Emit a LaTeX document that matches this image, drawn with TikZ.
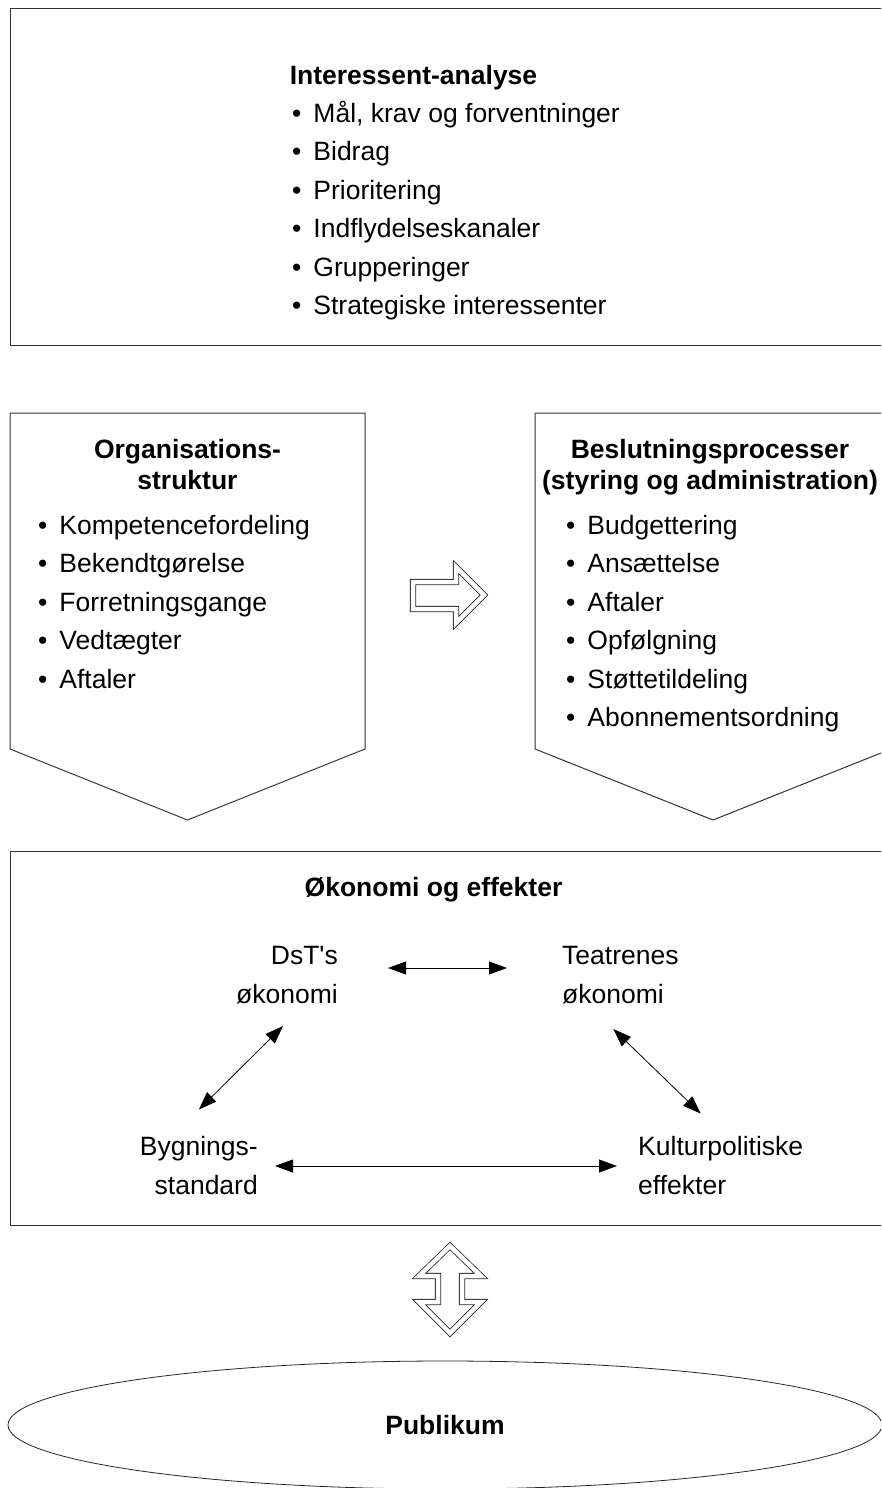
\documentclass[tikz,border=0pt]{standalone}
\usepackage{fontspec}
\setmainfont{Liberation Sans}
\usetikzlibrary{positioning,arrows.meta,shapes.geometric}
\newcommand{\punkt}{•\hspace{12pt}}

\begin{document}
\begin{tikzpicture}[x=1pt,y=1pt,
    font=\fontsize{26.5}{39}\selectfont,
    frame/.style={draw=black!80, line width=1pt},
    hollow/.style={draw=black!85, line width=0.8pt, double=white, double distance=4.5pt, line join=miter},
    heading/.style={font=\fontsize{26.5}{39}\selectfont\bfseries, inner sep=0pt, anchor=base},
    item/.style={inner sep=0pt, anchor=base west},
    eco/.style={inner sep=0pt},
    both/.style={{Triangle[length=18pt,width=13pt]}-{Triangle[length=18pt,width=13pt]}, line width=0.8pt},]
            \useasboundingbox (0,0) rectangle (881,-1488);
            \clip (0,0) rectangle (881,-1488);

            %Frames
            \draw[frame] (10,-9) rectangle (895,-345);
            \draw[frame] (10,-413) -- (365,-413) -- (365,-749) -- (187.5,-820) -- (10,-749) -- cycle;
            \draw[frame] (535,-413) -- (891,-413) -- (891,-749) -- (713,-820) -- (535,-749) -- cycle;
            \draw[frame] (10,-851) rectangle (895,-1225);
            \draw[hollow] (413,-582) -- (456,-582) -- (456,-567) -- (484,-595) -- (456,-623) -- (456,-609) -- (413,-609) -- cycle;
            \draw[hollow] (450,-1246) -- (481,-1276) -- (462,-1276) -- (462,-1302) -- (481,-1302) -- (450,-1333)
                -- (419,-1302) -- (438,-1302) -- (438,-1276) -- (419,-1276) -- cycle;

            %Interessenter
            \node[heading](interessent) at (413.5,-84.5){Interessent-analyse};
            \node[item](maal) at (292,-122){\punkt Mål, krav og forventninger};
            \node(bidrag)[below=38.5pt of maal.base west, item]{\punkt Bidrag};
            \node(prioritering)[below=38.5pt of bidrag.base west, item]{\punkt Prioritering};
            \node(kanaler)[below=38.5pt of prioritering.base west, item]{\punkt Indflydelseskanaler};
            \node(grupper)[below=38.5pt of kanaler.base west, item]{\punkt Grupperinger};
            \node(strategisk)[below=38.5pt of grupper.base west, item]{\punkt Strategiske interessenter};

            %Organisation
            \node[heading](org) at (187.5,-458){Organisations-};
            \node(struktur)[below=31pt of org.base, heading]{struktur};
            \node[item](kompetence) at (38,-534){\punkt Kompetencefordeling};
            \node(bekendt)[below=38.5pt of kompetence.base west, item]{\punkt Bekendtgørelse};
            \node(forretning)[below=38.5pt of bekendt.base west, item]{\punkt Forretningsgange};
            \node(vedtaegt)[below=38.5pt of forretning.base west, item]{\punkt Vedtægter};
            \node(aftaler_org)[below=38.5pt of vedtaegt.base west, item]{\punkt Aftaler};

            %Beslutninger
            \node[heading](beslut) at (710,-458){Beslutningsprocesser};
            \node(styring)[below=31pt of beslut.base, heading]{(styring og administration)};
            \node[item](budget) at (566,-534){\punkt Budgettering};
            \node(ansaet)[below=38.5pt of budget.base west, item]{\punkt Ansættelse};
            \node(aftaler_bes)[below=38.5pt of ansaet.base west, item]{\punkt Aftaler};
            \node(opfolg)[below=38.5pt of aftaler_bes.base west, item]{\punkt Opfølgning};
            \node(stotte)[below=38.5pt of opfolg.base west, item]{\punkt Støttetildeling};
            \node(abonnement)[below=38.5pt of stotte.base west, item]{\punkt Abonnementsordning};

            %Okonomi
            \node[heading](okonomi) at (433.5,-896){Økonomi og effekter};
            \node[eco, align=right, anchor=east](dst) at (338,-975){DsT\textquotesingle s\\økonomi};
            \node(teatre)[right=224pt of dst, eco, align=left, anchor=west]{Teatrenes\\økonomi};
            \node[eco, align=right, anchor=east](byg) at (258,-1166){Bygnings-\\standard};
            \node(kultur)[right=380pt of byg, eco, align=left, anchor=west]{Kulturpolitiske\\effekter};
            \node[draw=black!85, line width=0.8pt, ellipse, minimum width=874pt, minimum height=128pt,
                font=\fontsize{26.5}{39}\selectfont\bfseries](publikum) at (445,-1425){Publikum};

            %Lines
            \draw[both, shorten <=50pt, shorten >=55pt] ([yshift=7pt]dst.east) -- ([yshift=7pt]teatre.west);
            \draw[both] ([xshift=-4pt,yshift=-22pt]dst.south) -- ([yshift=27pt]byg.north);
            \draw[both] ([xshift=-7pt,yshift=-25pt]teatre.south) -- ([xshift=-20pt,yshift=23pt]kultur.north);
            \draw[both, shorten <=17pt, shorten >=21pt] (byg.east) -- (kultur.west);
        \end{tikzpicture}
\end{document}
